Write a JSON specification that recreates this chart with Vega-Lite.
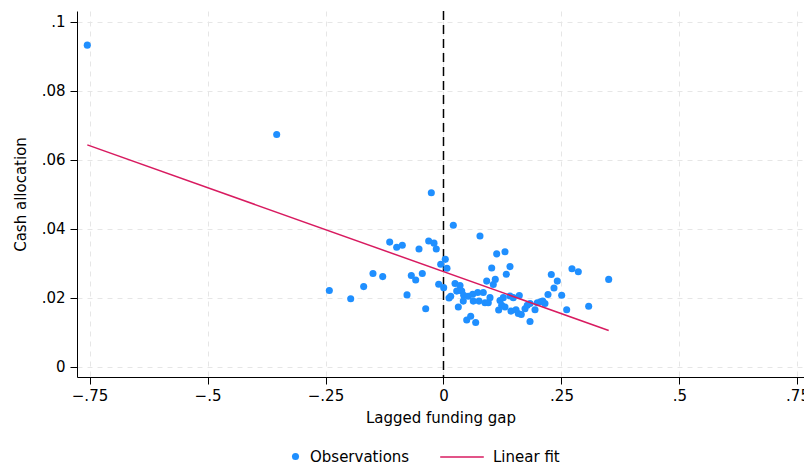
{
  "$schema": "https://vega.github.io/schema/vega-lite/v6.json",
  "width": 727,
  "height": 366,
  "autosize": {"type": "none"},
  "padding": {"left": 77, "top": 11, "right": 0, "bottom": 89},
  "background": "white",
  "datasets": {
    "observations": [
      {"gap": -0.7547, "cash": 0.0932},
      {"gap": -0.3534, "cash": 0.0673},
      {"gap": -0.0258, "cash": 0.0504},
      {"gap": 0.0208, "cash": 0.0410},
      {"gap": 0.0773, "cash": 0.0379},
      {"gap": -0.1140, "cash": 0.0361},
      {"gap": -0.0992, "cash": 0.0346},
      {"gap": -0.0873, "cash": 0.0352},
      {"gap": -0.0519, "cash": 0.0341},
      {"gap": -0.0314, "cash": 0.0364},
      {"gap": -0.0201, "cash": 0.0358},
      {"gap": -0.0153, "cash": 0.0341},
      {"gap": 0.1127, "cash": 0.0327},
      {"gap": 0.1303, "cash": 0.0333},
      {"gap": 0.0038, "cash": 0.0311},
      {"gap": -0.0059, "cash": 0.0297},
      {"gap": 0.0074, "cash": 0.0285},
      {"gap": 0.1021, "cash": 0.0286},
      {"gap": 0.1409, "cash": 0.0290},
      {"gap": -0.1494, "cash": 0.0270},
      {"gap": -0.1288, "cash": 0.0261},
      {"gap": -0.0682, "cash": 0.0264},
      {"gap": -0.0589, "cash": 0.0251},
      {"gap": -0.0449, "cash": 0.0270},
      {"gap": 0.1331, "cash": 0.0268},
      {"gap": 0.0915, "cash": 0.0248},
      {"gap": 0.1097, "cash": 0.0253},
      {"gap": 0.1055, "cash": 0.0238},
      {"gap": 0.2284, "cash": 0.0267},
      {"gap": 0.2722, "cash": 0.0284},
      {"gap": 0.2856, "cash": 0.0275},
      {"gap": 0.3500, "cash": 0.0253},
      {"gap": 0.2411, "cash": 0.0248},
      {"gap": 0.2341, "cash": 0.0228},
      {"gap": 0.2214, "cash": 0.0209},
      {"gap": 0.2504, "cash": 0.0207},
      {"gap": -0.2419, "cash": 0.0221},
      {"gap": -0.1966, "cash": 0.0197},
      {"gap": -0.1691, "cash": 0.0232},
      {"gap": -0.0773, "cash": 0.0208},
      {"gap": -0.0377, "cash": 0.0168},
      {"gap": -0.0102, "cash": 0.0239},
      {"gap": 0.0004, "cash": 0.0229},
      {"gap": 0.0244, "cash": 0.0241},
      {"gap": 0.0350, "cash": 0.0235},
      {"gap": 0.0280, "cash": 0.0219},
      {"gap": 0.0386, "cash": 0.0219},
      {"gap": 0.0153, "cash": 0.0204},
      {"gap": 0.0117, "cash": 0.0199},
      {"gap": 0.0428, "cash": 0.0207},
      {"gap": 0.0525, "cash": 0.0204},
      {"gap": 0.0619, "cash": 0.0210},
      {"gap": 0.0725, "cash": 0.0215},
      {"gap": 0.0843, "cash": 0.0215},
      {"gap": 0.0631, "cash": 0.0190},
      {"gap": 0.0752, "cash": 0.0190},
      {"gap": 0.0879, "cash": 0.0185},
      {"gap": 0.0985, "cash": 0.0200},
      {"gap": 0.0949, "cash": 0.0185},
      {"gap": 0.0419, "cash": 0.0190},
      {"gap": 0.0314, "cash": 0.0173},
      {"gap": 0.1197, "cash": 0.0192},
      {"gap": 0.1233, "cash": 0.0178},
      {"gap": 0.1169, "cash": 0.0164},
      {"gap": 0.1267, "cash": 0.0200},
      {"gap": 0.1303, "cash": 0.0173},
      {"gap": 0.1409, "cash": 0.0205},
      {"gap": 0.1606, "cash": 0.0206},
      {"gap": 0.1479, "cash": 0.0200},
      {"gap": 0.1430, "cash": 0.0161},
      {"gap": 0.1536, "cash": 0.0165},
      {"gap": 0.1585, "cash": 0.0154},
      {"gap": 0.1648, "cash": 0.0151},
      {"gap": 0.1727, "cash": 0.0168},
      {"gap": 0.1775, "cash": 0.0178},
      {"gap": 0.1833, "cash": 0.0183},
      {"gap": 0.1939, "cash": 0.0165},
      {"gap": 0.1987, "cash": 0.0185},
      {"gap": 0.2059, "cash": 0.0188},
      {"gap": 0.2150, "cash": 0.0183},
      {"gap": 0.2102, "cash": 0.0190},
      {"gap": 0.2610, "cash": 0.0165},
      {"gap": 0.3076, "cash": 0.0175},
      {"gap": 0.1833, "cash": 0.0131},
      {"gap": 0.0492, "cash": 0.0135},
      {"gap": 0.0576, "cash": 0.0146},
      {"gap": 0.0682, "cash": 0.0128}
    ],
    "fit": [
      {"gap": -0.7547, "cash": 0.0643},
      {"gap": 0.3500, "cash": 0.0105}
    ],
    "zeroline": [
      {"gap": 0}
    ]
  },
  "encoding": {
    "x": {
      "field": "gap",
      "type": "quantitative",
      "title": "Lagged funding gap",
      "scale": {"domain": [-0.7765, 0.7638], "nice": false, "zero": false},
      "axis": {
        "values": [-0.75, -0.5, -0.25, 0, 0.25, 0.5, 0.75],
        "labelExpr": "datum.value == 0 ? '0' : replace(format(datum.value, '.2~f'), '0.', '.')",
        "labelPadding": 4,
        "titlePadding": 7
      }
    }
  },
  "layer": [
    {
      "data": {"name": "zeroline"},
      "mark": {"type": "rule", "color": "black", "strokeWidth": 1.5, "strokeDash": [9, 5]},
      "encoding": {}
    },
    {
      "data": {"name": "observations"},
      "mark": {"type": "circle", "size": 50, "opacity": 1},
      "encoding": {
        "y": {
          "field": "cash",
          "type": "quantitative",
          "title": "Cash allocation",
          "scale": {"domain": [-0.003, 0.1031], "nice": false, "zero": false},
          "axis": {
            "values": [0, 0.02, 0.04, 0.06, 0.08, 0.1],
            "labelExpr": "datum.value == 0 ? '0' : replace(format(datum.value, '.2~f'), '0.', '.')",
            "labelPadding": 5,
            "titlePadding": 13
          }
        },
        "fill": {
          "datum": "Observations",
          "type": "nominal",
          "scale": {"range": ["#1f8fff"]},
          "legend": {"orient": "none", "legendX": 211, "legendY": 438, "title": null, "symbolType": "circle", "symbolSize": 50, "labelOffset": 7}
        }
      }
    },
    {
      "data": {"name": "fit"},
      "mark": {"type": "line", "strokeWidth": 1.5},
      "encoding": {
        "y": {"field": "cash", "type": "quantitative"},
        "stroke": {
          "datum": "Linear fit",
          "type": "nominal",
          "scale": {"range": ["#d81b60"]},
          "legend": {"orient": "none", "legendX": 362, "legendY": 423, "title": null, "symbolType": "stroke", "symbolSize": 1900, "symbolStrokeWidth": 1.5, "labelOffset": 8}
        }
      }
    }
  ],
  "config": {
    "font": "DejaVu Sans",
    "view": {"stroke": null},
    "axis": {
      "domainColor": "black",
      "domainWidth": 1,
      "tickColor": "black",
      "tickSize": 7,
      "labelFont": "DejaVu Sans",
      "labelFontSize": 15,
      "labelColor": "black",
      "titleFont": "DejaVu Sans",
      "titleFontSize": 15,
      "titleFontWeight": "normal",
      "titleColor": "black",
      "gridColor": "#e6e6e6",
      "gridDash": [5, 5],
      "gridWidth": 1
    },
    "axisY": {"labelAngle": 0},
    "legend": {
      "labelFont": "DejaVu Sans",
      "labelFontSize": 15,
      "labelColor": "black"
    }
  }
}
